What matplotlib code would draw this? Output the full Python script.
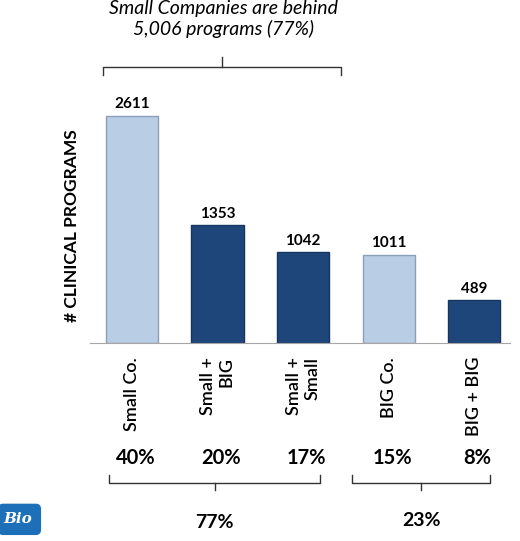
import matplotlib.pyplot as plt
import matplotlib.transforms as mtransforms
from matplotlib.patches import FancyBboxPatch

plt.rcParams['font.family'] = ['Lato', 'DejaVu Sans']

# data
categories = ['Small Co.', 'Small +\nBIG', 'Small +\nSmall', 'BIG Co.', 'BIG + BIG']
programs = [2611, 1353, 1042, 1011, 489]
shares = ['40%', '20%', '17%', '15%', '8%']
group_labels = ['77%', '23%']

light = '#B9CDE5'
dark = '#1F467A'
colors = [light, dark, dark, light, dark]
edges = ['#8A9FBA', '#17355E', '#17355E', '#8A9FBA', '#17355E']

fig = plt.figure(figsize=(5.2, 5.41), dpi=100)
ax = fig.add_axes([0.173, 0.366, 0.808, 0.482])

x = list(range(len(categories)))
ax.bar(x, programs, width=0.61, color=colors, edgecolor=edges, linewidth=1)
for xi, v in zip(x, programs):
    ax.text(xi, v + 55, str(v), ha='center', va='bottom', fontsize=11, fontweight='bold')

ax.set_xlim(-0.491, 4.42)
ax.set_ylim(0, 3000)
ax.set_yticks([])
for s in ['top', 'right', 'left']:
    ax.spines[s].set_visible(False)
ax.spines['bottom'].set_color('#A6A6A6')
ax.set_xticks(x)
ax.set_xticklabels(categories, rotation=90, fontsize=13, multialignment='right',
                   fontweight='semibold')
ax.tick_params(axis='x', length=0, pad=10)
ax.set_ylabel('# CLINICAL PROGRAMS', fontsize=12.5, fontweight='bold')
ax.yaxis.set_label_coords(-0.024, 0.452)

tr = mtransforms.blended_transform_factory(ax.transData, ax.transAxes)

for xi, s in zip(x, shares):
    ax.text(xi + 0.04, -0.44, s, transform=tr, ha='center', va='center',
            fontsize=14.5, fontweight='bold')


def brace(x0, x1, y, h, tip, up=True):
    xm = (x0 + x1) / 2
    d = h if up else -h
    t = tip if up else -tip
    ax.plot([x0, x0, x1, x1], [y - d, y, y, y - d], color='#333333', lw=1,
            transform=tr, clip_on=False)
    ax.plot([xm, xm], [y, y + t], color='#333333', lw=1, transform=tr, clip_on=False)


brace(-0.34, 2.44, 1.057, 0.03, 0.04, up=True)
brace(-0.27, 2.2, -0.536, 0.03, 0.027, up=False)
brace(2.57, 4.19, -0.536, 0.03, 0.027, up=False)

ax.text(0.965, -0.69, group_labels[0], transform=tr, ha='center', va='center',
        fontsize=14, fontweight='bold')
ax.text(3.38, -0.68, group_labels[1], transform=tr, ha='center', va='center',
        fontsize=14, fontweight='bold')

fig.text(0.429, 1.0, 'Small Companies are behind\n5,006 programs (77%)',
         ha='center', va='top', fontsize=14, style='italic', linespacing=1.2)

# logo
logo = FancyBboxPatch((0.0, 0.015), 0.075, 0.05, boxstyle='round,pad=0.004,rounding_size=0.01',
                      transform=fig.transFigure, facecolor='#1D6FB8', edgecolor='none')
fig.patches.append(logo)
fig.text(0.035, 0.04, 'Bio', ha='center', va='center', color='white',
         fontsize=11, fontweight='bold', style='italic', family='DejaVu Serif')

fig.savefig('out.png', dpi=100)
